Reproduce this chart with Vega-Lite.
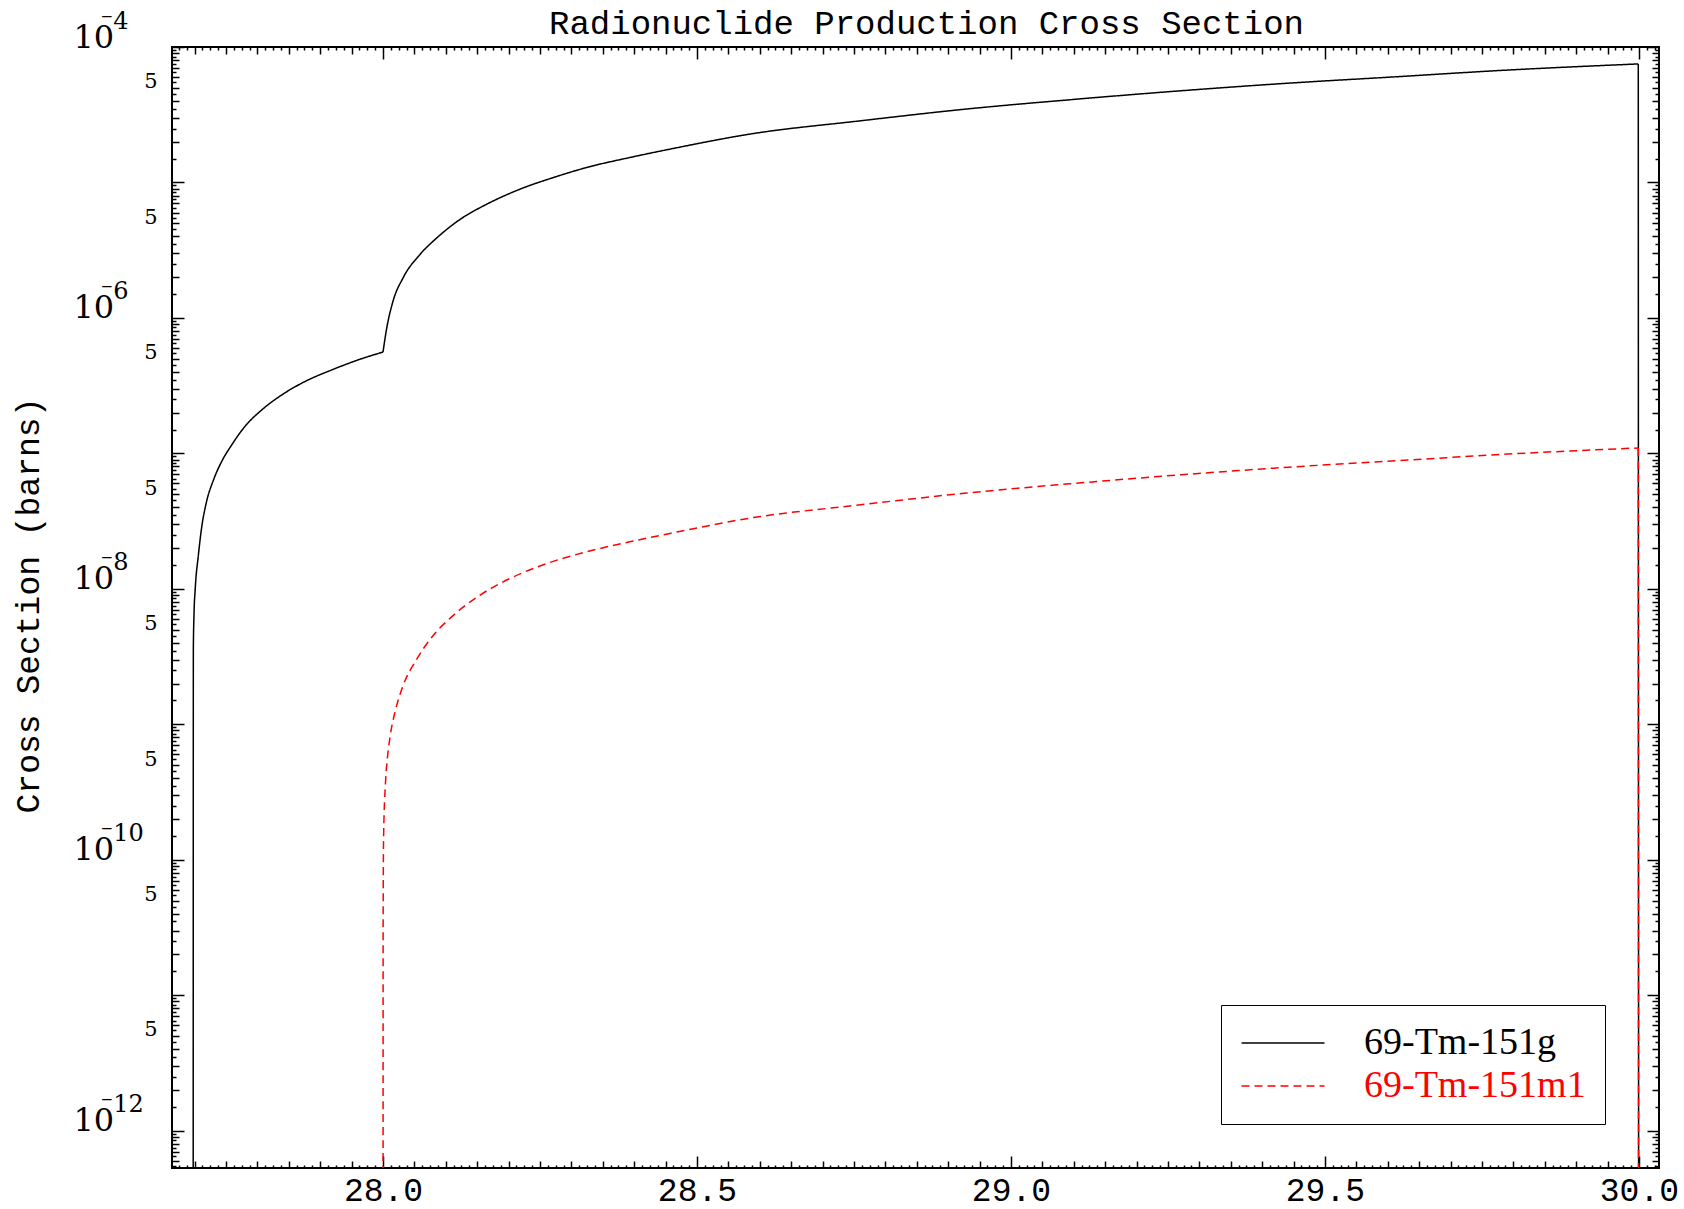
{
  "$schema": "https://vega.github.io/schema/vega-lite/v6.json",
  "width": 1487,
  "height": 1121,
  "autosize": {"type": "none"},
  "padding": {"left": 172, "top": 47, "right": 25, "bottom": 41},
  "background": "white",
  "config": {
    "view": {"stroke": "black", "strokeWidth": 2},
    "axis": {"grid": false, "domain": false, "tickColor": "black", "tickWidth": 1.5, "labelColor": "black", "labelOverlap": false, "labelFlush": false, "labelBound": false}
  },
  "data": {
    "values": [
      {"energy": 27.6975, "xs": 1e-20, "product": "69-Tm-151g", "seg": "g1"},
      {"energy": 27.698, "xs": 3.63e-9, "product": "69-Tm-151g", "seg": "g1"},
      {"energy": 27.699, "xs": 6.37e-9, "product": "69-Tm-151g", "seg": "g1"},
      {"energy": 27.701, "xs": 1.0e-8, "product": "69-Tm-151g", "seg": "g1"},
      {"energy": 27.706, "xs": 1.77e-8, "product": "69-Tm-151g", "seg": "g1"},
      {"energy": 27.711, "xs": 2.79e-8, "product": "69-Tm-151g", "seg": "g1"},
      {"energy": 27.719, "xs": 4.40e-8, "product": "69-Tm-151g", "seg": "g1"},
      {"energy": 27.730, "xs": 6.35e-8, "product": "69-Tm-151g", "seg": "g1"},
      {"energy": 27.743, "xs": 8.69e-8, "product": "69-Tm-151g", "seg": "g1"},
      {"energy": 27.759, "xs": 1.153e-7, "product": "69-Tm-151g", "seg": "g1"},
      {"energy": 27.780, "xs": 1.578e-7, "product": "69-Tm-151g", "seg": "g1"},
      {"energy": 27.807, "xs": 2.094e-7, "product": "69-Tm-151g", "seg": "g1"},
      {"energy": 27.839, "xs": 2.704e-7, "product": "69-Tm-151g", "seg": "g1"},
      {"energy": 27.876, "xs": 3.396e-7, "product": "69-Tm-151g", "seg": "g1"},
      {"energy": 27.919, "xs": 4.140e-7, "product": "69-Tm-151g", "seg": "g1"},
      {"energy": 27.961, "xs": 4.909e-7, "product": "69-Tm-151g", "seg": "g1"},
      {"energy": 28.000, "xs": 5.598e-7, "product": "69-Tm-151g", "seg": "g1"},
      {"energy": 28.000, "xs": 5.598e-7, "product": "69-Tm-151g", "seg": "g2"},
      {"energy": 28.006, "xs": 8.43e-7, "product": "69-Tm-151g", "seg": "g2"},
      {"energy": 28.016, "xs": 1.330e-6, "product": "69-Tm-151g", "seg": "g2"},
      {"energy": 28.032, "xs": 1.977e-6, "product": "69-Tm-151g", "seg": "g2"},
      {"energy": 28.059, "xs": 2.944e-6, "product": "69-Tm-151g", "seg": "g2"},
      {"energy": 28.086, "xs": 3.908e-6, "product": "69-Tm-151g", "seg": "g2"},
      {"energy": 28.123, "xs": 5.346e-6, "product": "69-Tm-151g", "seg": "g2"},
      {"energy": 28.165, "xs": 6.902e-6, "product": "69-Tm-151g", "seg": "g2"},
      {"energy": 28.218, "xs": 8.913e-6, "product": "69-Tm-151g", "seg": "g2"},
      {"energy": 28.271, "xs": 1.086e-5, "product": "69-Tm-151g", "seg": "g2"},
      {"energy": 28.324, "xs": 1.288e-5, "product": "69-Tm-151g", "seg": "g2"},
      {"energy": 28.393, "xs": 1.528e-5, "product": "69-Tm-151g", "seg": "g2"},
      {"energy": 28.457, "xs": 1.762e-5, "product": "69-Tm-151g", "seg": "g2"},
      {"energy": 28.587, "xs": 2.286e-5, "product": "69-Tm-151g", "seg": "g2"},
      {"energy": 28.758, "xs": 2.844e-5, "product": "69-Tm-151g", "seg": "g2"},
      {"energy": 28.929, "xs": 3.483e-5, "product": "69-Tm-151g", "seg": "g2"},
      {"energy": 29.100, "xs": 4.102e-5, "product": "69-Tm-151g", "seg": "g2"},
      {"energy": 29.271, "xs": 4.753e-5, "product": "69-Tm-151g", "seg": "g2"},
      {"energy": 29.442, "xs": 5.408e-5, "product": "69-Tm-151g", "seg": "g2"},
      {"energy": 29.613, "xs": 6.026e-5, "product": "69-Tm-151g", "seg": "g2"},
      {"energy": 29.784, "xs": 6.730e-5, "product": "69-Tm-151g", "seg": "g2"},
      {"energy": 29.999, "xs": 7.499e-5, "product": "69-Tm-151g", "seg": "g2"},
      {"energy": 29.999, "xs": 7.499e-5, "product": "69-Tm-151g", "seg": "g3"},
      {"energy": 30.000, "xs": 1e-20, "product": "69-Tm-151g", "seg": "g3"},
      {"energy": 28.0000, "xs": 1e-20, "product": "69-Tm-151m1", "seg": "m1"},
      {"energy": 28.0002, "xs": 3.16e-11, "product": "69-Tm-151m1", "seg": "m1"},
      {"energy": 28.0010, "xs": 1.514e-10, "product": "69-Tm-151m1", "seg": "m1"},
      {"energy": 28.0040, "xs": 3.715e-10, "product": "69-Tm-151m1", "seg": "m1"},
      {"energy": 28.0070, "xs": 5.623e-10, "product": "69-Tm-151m1", "seg": "m1"},
      {"energy": 28.0110, "xs": 7.943e-10, "product": "69-Tm-151m1", "seg": "m1"},
      {"energy": 28.0190, "xs": 1.227e-9, "product": "69-Tm-151m1", "seg": "m1"},
      {"energy": 28.0250, "xs": 1.549e-9, "product": "69-Tm-151m1", "seg": "m1"},
      {"energy": 28.0320, "xs": 1.932e-9, "product": "69-Tm-151m1", "seg": "m1"},
      {"energy": 28.0540, "xs": 3.041e-9, "product": "69-Tm-151m1", "seg": "m1"},
      {"energy": 28.0800, "xs": 4.529e-9, "product": "69-Tm-151m1", "seg": "m1"},
      {"energy": 28.1120, "xs": 6.368e-9, "product": "69-Tm-151m1", "seg": "m1"},
      {"energy": 28.1540, "xs": 8.954e-9, "product": "69-Tm-151m1", "seg": "m1"},
      {"energy": 28.2020, "xs": 1.191e-8, "product": "69-Tm-151m1", "seg": "m1"},
      {"energy": 28.2610, "xs": 1.538e-8, "product": "69-Tm-151m1", "seg": "m1"},
      {"energy": 28.3240, "xs": 1.875e-8, "product": "69-Tm-151m1", "seg": "m1"},
      {"energy": 28.3930, "xs": 2.223e-8, "product": "69-Tm-151m1", "seg": "m1"},
      {"energy": 28.4570, "xs": 2.564e-8, "product": "69-Tm-151m1", "seg": "m1"},
      {"energy": 28.5870, "xs": 3.342e-8, "product": "69-Tm-151m1", "seg": "m1"},
      {"energy": 28.7580, "xs": 4.159e-8, "product": "69-Tm-151m1", "seg": "m1"},
      {"energy": 28.9290, "xs": 5.093e-8, "product": "69-Tm-151m1", "seg": "m1"},
      {"energy": 29.1000, "xs": 5.998e-8, "product": "69-Tm-151m1", "seg": "m1"},
      {"energy": 29.2710, "xs": 6.950e-8, "product": "69-Tm-151m1", "seg": "m1"},
      {"energy": 29.4420, "xs": 7.907e-8, "product": "69-Tm-151m1", "seg": "m1"},
      {"energy": 29.6130, "xs": 8.810e-8, "product": "69-Tm-151m1", "seg": "m1"},
      {"energy": 29.7840, "xs": 9.840e-8, "product": "69-Tm-151m1", "seg": "m1"},
      {"energy": 29.9990, "xs": 1.096e-7, "product": "69-Tm-151m1", "seg": "m1"},
      {"energy": 29.9990, "xs": 1.096e-7, "product": "69-Tm-151m1", "seg": "m2"},
      {"energy": 30.0000, "xs": 1e-20, "product": "69-Tm-151m1", "seg": "m2"}
    ]
  },
  "layer": [
    {
      "transform": [{"filter": "datum.product == '69-Tm-151g'"}],
      "mark": {"type": "line", "clip": true, "strokeWidth": 1.5, "interpolate": "monotone"},
      "encoding": {
        "detail": {"field": "seg", "type": "nominal"},
        "x": {
          "field": "energy", "type": "quantitative",
          "scale": {"domain": [27.664, 30.032], "nice": false, "zero": false},
          "axis": {
            "orient": "bottom", "title": null,
            "values": {"expr": "sequence(27.675, 30.03, 0.0125)"},
            "tickSize": {"condition": [{"test": "abs(datum.value*2 - round(datum.value*2)) < 0.001", "value": -12}, {"test": "abs(datum.value*20 - round(datum.value*20)) < 0.001", "value": -7}], "value": -3},
            "labelExpr": "abs(datum.value*2 - round(datum.value*2)) < 0.001 ? format(datum.value, '.1f') : ''",
            "labelFont": "Liberation Mono", "labelFontSize": 33,
            "labelPadding": 44, "labelBaseline": "alphabetic"
          }
        },
        "y": {
          "field": "xs", "type": "quantitative",
          "scale": {"type": "log", "domain": [5.3e-13, 1e-4], "nice": false},
          "axis": {
            "orient": "left",
            "title": "Cross Section (barns)",
            "titleFont": "Liberation Mono", "titleFontSize": 33, "titleFontWeight": "normal", "titleColor": "black",
            "titleX": -144, "titleY": 558, "titleAngle": -90, "titleBaseline": "middle", "titleAlign": "center",
            "values": [5.5e-13,6e-13,6.5e-13,7e-13,7.5e-13,8e-13,8.5e-13,9e-13,9.5e-13,
              1e-12,1.5e-12,2e-12,2.5e-12,3e-12,3.5e-12,4e-12,4.5e-12,5e-12,5.5e-12,6e-12,6.5e-12,7e-12,7.5e-12,8e-12,8.5e-12,9e-12,9.5e-12,
              1e-11,1.5e-11,2e-11,2.5e-11,3e-11,3.5e-11,4e-11,4.5e-11,5e-11,5.5e-11,6e-11,6.5e-11,7e-11,7.5e-11,8e-11,8.5e-11,9e-11,9.5e-11,
              1e-10,1.5e-10,2e-10,2.5e-10,3e-10,3.5e-10,4e-10,4.5e-10,5e-10,5.5e-10,6e-10,6.5e-10,7e-10,7.5e-10,8e-10,8.5e-10,9e-10,9.5e-10,
              1e-9,1.5e-9,2e-9,2.5e-9,3e-9,3.5e-9,4e-9,4.5e-9,5e-9,5.5e-9,6e-9,6.5e-9,7e-9,7.5e-9,8e-9,8.5e-9,9e-9,9.5e-9,
              1e-8,1.5e-8,2e-8,2.5e-8,3e-8,3.5e-8,4e-8,4.5e-8,5e-8,5.5e-8,6e-8,6.5e-8,7e-8,7.5e-8,8e-8,8.5e-8,9e-8,9.5e-8,
              1e-7,1.5e-7,2e-7,2.5e-7,3e-7,3.5e-7,4e-7,4.5e-7,5e-7,5.5e-7,6e-7,6.5e-7,7e-7,7.5e-7,8e-7,8.5e-7,9e-7,9.5e-7,
              1e-6,1.5e-6,2e-6,2.5e-6,3e-6,3.5e-6,4e-6,4.5e-6,5e-6,5.5e-6,6e-6,6.5e-6,7e-6,7.5e-6,8e-6,8.5e-6,9e-6,9.5e-6,
              1e-5,1.5e-5,2e-5,2.5e-5,3e-5,3.5e-5,4e-5,4.5e-5,5e-5,5.5e-5,6e-5,6.5e-5,7e-5,7.5e-5,8e-5,8.5e-5,9e-5,9.5e-5,
              1e-4],
            "tickSize": {"condition": [
              {"test": "abs(log(datum.value)/LN10 - round(log(datum.value)/LN10)) < 0.001", "value": -12},
              {"test": "abs(datum.value/pow(10, floor(log(datum.value)/LN10 + 0.001)) - round(datum.value/pow(10, floor(log(datum.value)/LN10 + 0.001)))) < 0.001", "value": -7}
            ], "value": -4},
            "labelExpr": "abs(log(datum.value)/LN10 - round(log(datum.value)/LN10)) < 0.001 ? (round(log(datum.value)/LN10) % 2 == 0 ? '10' : '') : (abs(datum.value/pow(10, floor(log(datum.value)/LN10 + 0.001)) - 5) < 0.001 ? '5' : '')",
            "labelFont": "DejaVu Serif",
            "labelFontSize": {"condition": {"test": "abs(log(datum.value)/LN10 - round(log(datum.value)/LN10)) < 0.001", "value": 32}, "value": 21},
            "labelAlign": {"condition": {"test": "abs(log(datum.value)/LN10 - round(log(datum.value)/LN10)) < 0.001", "value": "left"}, "value": "right"},
            "labelPadding": {"condition": {"test": "abs(log(datum.value)/LN10 - round(log(datum.value)/LN10)) < 0.001", "value": 111}, "value": 22},
            "labelBaseline": "alphabetic"
          }
        },
        "color": {
          "field": "product", "type": "nominal",
          "scale": {"domain": ["69-Tm-151g", "69-Tm-151m1"], "range": ["#000000", "#ff0000"]},
          "legend": {
            "orient": "none", "legendX": 1049, "legendY": 958,
            "title": null, "padding": 19, "strokeColor": "black", "fillColor": "white",
            "symbolType": "M-2.5,0H2.5", "symbolSize": 1102, "symbolStrokeWidth": 1.5, "symbolOffset": 24,
            "labelFont": "Liberation Serif", "labelFontSize": 38, "labelOffset": 62, "labelLimit": 0, "rowPadding": 5,
            "labelExpr": "datum.label + '\u00a0\u00a0\u00a0'",
            "encode": {"labels": {"update": {"fill": {"signal": "datum.value == '69-Tm-151m1' ? '#ff0000' : '#000000'"}}}}
          }
        },
        "strokeDash": {
          "field": "product", "type": "nominal",
          "scale": {"domain": ["69-Tm-151g", "69-Tm-151m1"], "range": [[1, 0], [8, 5]]},
          "legend": null
        }
      }
    },
    {
      "transform": [{"filter": "datum.product == '69-Tm-151m1'"}],
      "mark": {"type": "line", "clip": true, "strokeWidth": 1.5, "interpolate": "monotone"},
      "encoding": {
        "detail": {"field": "seg", "type": "nominal"},
        "x": {
          "field": "energy", "type": "quantitative",
          "scale": {"domain": [27.664, 30.032], "nice": false, "zero": false},
          "axis": {
            "orient": "top", "labels": false,
            "title": "Radionuclide Production Cross Section",
            "titleFont": "Liberation Mono", "titleFontSize": 34, "titleFontWeight": "normal", "titleColor": "black",
            "titleX": 754, "titleY": -14, "titleAlign": "center", "titleBaseline": "alphabetic",
            "values": {"expr": "sequence(27.675, 30.03, 0.0125)"},
            "tickSize": {"condition": [{"test": "abs(datum.value*2 - round(datum.value*2)) < 0.001", "value": -12}, {"test": "abs(datum.value*20 - round(datum.value*20)) < 0.001", "value": -7}], "value": -3}
          }
        },
        "y": {
          "field": "xs", "type": "quantitative",
          "scale": {"type": "log", "domain": [5.3e-13, 1e-4], "nice": false},
          "axis": {
            "orient": "right", "title": null, "labels": false,
            "values": [5.5e-13,6e-13,6.5e-13,7e-13,7.5e-13,8e-13,8.5e-13,9e-13,9.5e-13,
              1e-12,1.5e-12,2e-12,2.5e-12,3e-12,3.5e-12,4e-12,4.5e-12,5e-12,5.5e-12,6e-12,6.5e-12,7e-12,7.5e-12,8e-12,8.5e-12,9e-12,9.5e-12,
              1e-11,1.5e-11,2e-11,2.5e-11,3e-11,3.5e-11,4e-11,4.5e-11,5e-11,5.5e-11,6e-11,6.5e-11,7e-11,7.5e-11,8e-11,8.5e-11,9e-11,9.5e-11,
              1e-10,1.5e-10,2e-10,2.5e-10,3e-10,3.5e-10,4e-10,4.5e-10,5e-10,5.5e-10,6e-10,6.5e-10,7e-10,7.5e-10,8e-10,8.5e-10,9e-10,9.5e-10,
              1e-9,1.5e-9,2e-9,2.5e-9,3e-9,3.5e-9,4e-9,4.5e-9,5e-9,5.5e-9,6e-9,6.5e-9,7e-9,7.5e-9,8e-9,8.5e-9,9e-9,9.5e-9,
              1e-8,1.5e-8,2e-8,2.5e-8,3e-8,3.5e-8,4e-8,4.5e-8,5e-8,5.5e-8,6e-8,6.5e-8,7e-8,7.5e-8,8e-8,8.5e-8,9e-8,9.5e-8,
              1e-7,1.5e-7,2e-7,2.5e-7,3e-7,3.5e-7,4e-7,4.5e-7,5e-7,5.5e-7,6e-7,6.5e-7,7e-7,7.5e-7,8e-7,8.5e-7,9e-7,9.5e-7,
              1e-6,1.5e-6,2e-6,2.5e-6,3e-6,3.5e-6,4e-6,4.5e-6,5e-6,5.5e-6,6e-6,6.5e-6,7e-6,7.5e-6,8e-6,8.5e-6,9e-6,9.5e-6,
              1e-5,1.5e-5,2e-5,2.5e-5,3e-5,3.5e-5,4e-5,4.5e-5,5e-5,5.5e-5,6e-5,6.5e-5,7e-5,7.5e-5,8e-5,8.5e-5,9e-5,9.5e-5,
              1e-4],
            "tickSize": {"condition": [
              {"test": "abs(log(datum.value)/LN10 - round(log(datum.value)/LN10)) < 0.001", "value": -12},
              {"test": "abs(datum.value/pow(10, floor(log(datum.value)/LN10 + 0.001)) - round(datum.value/pow(10, floor(log(datum.value)/LN10 + 0.001)))) < 0.001", "value": -7}
            ], "value": -4}
          }
        },
        "color": {"field": "product", "type": "nominal", "scale": {"domain": ["69-Tm-151g", "69-Tm-151m1"], "range": ["#000000", "#ff0000"]}},
        "strokeDash": {"field": "product", "type": "nominal", "scale": {"domain": ["69-Tm-151g", "69-Tm-151m1"], "range": [[1, 0], [8, 5]]}, "legend": null}
      }
    },
    {
      "transform": [{"filter": "datum.product == '69-Tm-151g'"}],
      "mark": {"type": "point", "opacity": 0, "clip": true},
      "encoding": {
        "x": {"field": "energy", "type": "quantitative", "scale": {"domain": [27.664, 30.032], "nice": false, "zero": false}, "axis": null},
        "y": {
          "field": "xs", "type": "quantitative",
          "scale": {"type": "log", "domain": [5.3e-13, 1e-4], "nice": false},
          "axis": {
            "orient": "left", "title": null, "ticks": false,
            "values": [1e-4, 1e-6, 1e-8, 1e-10, 1e-12],
            "labelExpr": "'⁻' + (-round(log(datum.value)/LN10))",
            "labelFont": "DejaVu Serif", "labelFontSize": 24,
            "labelAlign": "left", "labelBaseline": "alphabetic",
            "labelPadding": 72, "labelOffset": -19
          }
        }
      }
    }
  ],
  "resolve": {"axis": {"x": "independent", "y": "independent"}}
}
